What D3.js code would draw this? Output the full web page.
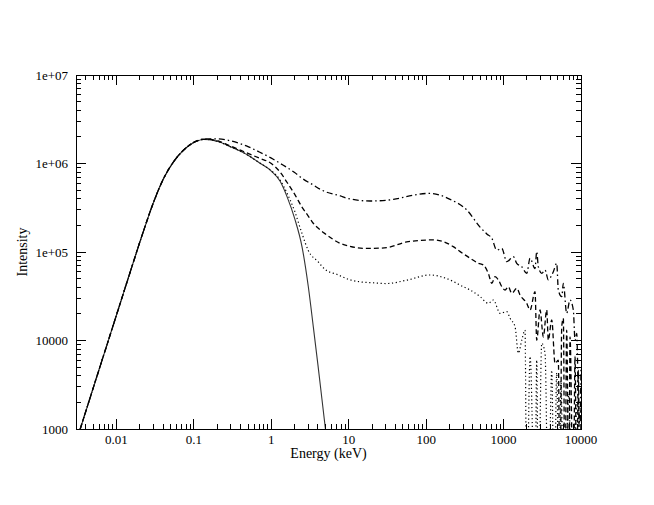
<!DOCTYPE html>
<html>
<head>
<meta charset="utf-8">
<script src="https://cdn.jsdelivr.net/npm/d3@7"></script>
<style>
html,body{margin:0;padding:0;background:#fff;}
svg{display:block;}
</style>
</head>
<body>
<svg id="chart" width="654" height="505"></svg>
<script>
// ---- data ----
const xTickLabels = ["0.01","0.1","1","10","100","1000","10000"];
const xTickValues = [0.01,0.1,1,10,100,1000,10000];
const yTickLabels = ["1000","10000","1e+05","1e+06","1e+07"];
const yTickValues = [1e3,1e4,1e5,1e6,1e7];

const solidE = [0.0034,0.005,0.007,0.01,0.015,0.0215,0.0303,0.0407,0.0548,0.0738,0.11,0.134,0.16,0.2,0.3,0.5,0.7,1.0,1.3,1.6,2.0,2.5,3.0,3.5,4.0,4.5,5.0];
const solidI = [1000,2900,7300,19400,59000,156000,370000,680000,1050000,1420000,1800000,1870000,1860000,1780000,1540000,1240000,1020000,820000,630000,420000,240000,113000,41000,13900,5300,2200,1000];

const dottedE = [0.0034,0.005,0.007,0.01,0.015,0.0215,0.0303,0.0407,0.0548,0.0738,0.11,0.134,0.16,0.2,0.3,0.5,0.7,1.0,1.3,1.6,2.0,2.5,3.0,4.0,5.0,7.0,10,14,20,31,56,112,185,302,370,498,635,738,901,1099,1213,1406,1552,1718,1892,1991,2198,2547,2680,2810,3112,3430,3784,4188,4500,4857,5200,5500,6000,7000,7500,9000,10000];
const dottedI = [1000,2900,7300,19400,59000,156000,370000,680000,1050000,1420000,1800000,1870000,1860000,1780000,1540000,1240000,1020000,830000,650000,460000,290000,160000,104000,78000,63000,56000,49000,46000,45000,44000,48000,55000,50000,40500,37200,31300,26300,28700,20300,21200,17800,14300,7200,10100,13100,100,6600,100,6000,100,9300,7200,100,4600,100,4300,100,3500,100,2500,100,2000,100];

const dashedE = [0.0034,0.005,0.007,0.01,0.015,0.0215,0.0303,0.0407,0.0548,0.0738,0.11,0.134,0.16,0.2,0.3,0.5,0.7,1.0,1.3,1.6,2.0,2.5,3.0,3.5,4.3,5.0,7.8,10,15.5,20,31,56,124,224,275,370,473,548,635,705,776,857,948,1045,1151,1276,1479,1633,1991,2198,2547,2680,2958,3264,3606,3784,4188,4623,5093,5358,5636,5916,6200,6531,7000,7211,7960,8375,8810,9230,9700,10000];
const dashedI = [1000,2900,7300,19400,59000,156000,370000,680000,1050000,1420000,1800000,1880000,1870000,1810000,1570000,1300000,1150000,1000000,800000,610000,450000,320000,255000,210000,177000,160000,125000,117000,110000,110000,112000,130000,137000,115000,101000,85000,74500,71300,57400,44300,52600,48300,40600,37200,40600,34100,38900,32600,26300,22100,35600,10100,22100,11000,22100,10100,17100,5500,6000,100,14300,17800,100,13100,100,11000,100,6600,100,4600,100,2000];

const dashDotE = [0.0034,0.005,0.007,0.01,0.015,0.0215,0.0303,0.0407,0.0548,0.0738,0.11,0.134,0.16,0.2,0.3,0.5,0.7,1.0,1.31,2.0,2.5,3.5,4.3,5.0,7.8,9.5,18.9,37.8,68.6,112,204,335,500,607,705,817,948,1099,1337,1479,1718,1991,2198,2547,2680,2810,3112,3430,3784,4188,4395,4857,5093,5636,5916,6531,7211,7960,8375,8810,9230,9700,10000];
const dashDotI = [1000,2900,7300,19400,59000,156000,370000,680000,1050000,1420000,1810000,1890000,1900000,1900000,1800000,1550000,1350000,1150000,1000000,790000,680000,570000,510000,480000,430000,405000,377000,393000,440000,460000,393000,298000,190000,160000,143000,105000,110000,77700,88500,74500,68200,57400,85000,65000,101000,68200,57400,62700,48300,55000,59900,74500,37200,31300,44300,20300,28700,22100,10100,12000,2300,1170,5000];

// ---- layout ----
const FONT = "'Liberation Serif', 'Times New Roman', Times, 'DejaVu Serif', serif";
const svg = d3.select("#chart");
const pL = 76, pR = 581, pT = 75, pB = 429;
const x = d3.scaleLog().domain([0.003, 10000]).range([pL, pR]);
const y = d3.scaleLog().domain([1000, 1e7]).range([pB, pT]);

svg.append("defs").append("clipPath").attr("id","clip")
  .append("rect").attr("x",pL).attr("y",pT).attr("width",pR-pL).attr("height",pB-pT);

function zip(E, I){ const n = Math.min(E.length, I.length); const a=[]; for(let i=0;i<n;i++) a.push([E[i], I[i]]); return a; }
const line = d3.line().x(d=>x(d[0])).y(d=>y(Math.max(d[1], 1))).curve(d3.curveMonotoneX);

const g = svg.append("g").attr("clip-path","url(#clip)");
const series = [
  {data: zip(solidE, solidI), dash: null, w: 1.1, c:"#333"},
  {data: zip(dottedE, dottedI), dash: "1.2,2.6", w: 1.2, c:"#000"},
  {data: zip(dashedE, dashedI), dash: "5,3", w: 1.3, c:"#000"},
  {data: zip(dashDotE, dashDotI), dash: "6,3,1.5,3", w: 1.3, c:"#000"}
];
series.forEach(s=>{
  g.append("path").attr("d", line(s.data)).attr("fill","none")
   .attr("stroke", s.c).attr("stroke-width", s.w)
   .attr("stroke-dasharray", s.dash);
});

// ---- frame & ticks (inward on all four sides) ----
const ax = svg.append("g").attr("stroke","#000").attr("stroke-width",1).attr("shape-rendering","crispEdges");
ax.append("rect").attr("x",pL).attr("y",pT).attr("width",pR-pL).attr("height",pB-pT).attr("fill","none");
const majorLen = 10, minorLen = 5;
x.ticks().forEach(v=>{
  const isMajor = xTickValues.some(t=>Math.abs(t-v)/t<1e-6);
  const len = isMajor ? majorLen : minorLen;
  const px = x(v);
  if (px < pL || px > pR) return;
  ax.append("line").attr("x1",px).attr("x2",px).attr("y1",pB).attr("y2",pB-len);
  ax.append("line").attr("x1",px).attr("x2",px).attr("y1",pT).attr("y2",pT+len);
});
y.ticks().forEach(v=>{
  const isMajor = yTickValues.some(t=>Math.abs(t-v)/t<1e-6);
  const len = isMajor ? majorLen : minorLen;
  const py = y(v);
  ax.append("line").attr("x1",pL).attr("x2",pL+len).attr("y1",py).attr("y2",py);
  ax.append("line").attr("x1",pR).attr("x2",pR-len).attr("y1",py).attr("y2",py);
});

// ---- tick labels ----
xTickValues.forEach((v,i)=>{
  svg.append("text").attr("x", x(v)).attr("y", pB+15).attr("text-anchor","middle")
    .attr("font-family", FONT).attr("font-size", 13).attr("fill","#000").text(xTickLabels[i]);
});
yTickValues.forEach((v,i)=>{
  svg.append("text").attr("x", pL-8).attr("y", y(v)+4.5).attr("text-anchor","end")
    .attr("font-family", FONT).attr("font-size", 13).attr("fill","#000").text(yTickLabels[i]);
});

// ---- axis titles ----
svg.append("text").attr("x",(pL+pR)/2).attr("y",458).attr("text-anchor","middle")
  .attr("font-family", FONT).attr("font-size", 14).attr("fill","#000").text("Energy (keV)");
svg.append("text").attr("transform",`translate(27,${(pT+pB)/2}) rotate(-90)`)
  .attr("text-anchor","middle").attr("font-family", FONT).attr("font-size", 14).attr("fill","#000").text("Intensity");
</script>
</body>
</html>
